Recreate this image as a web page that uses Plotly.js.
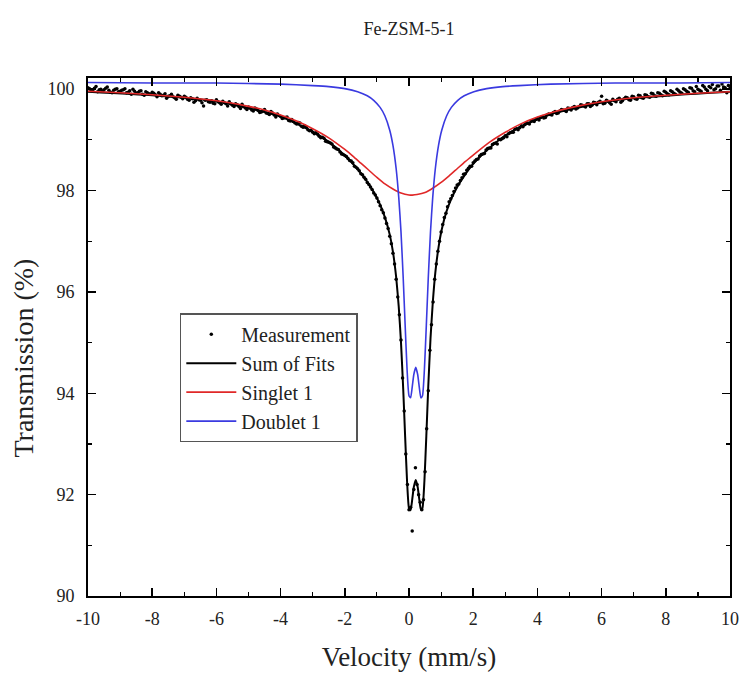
<!DOCTYPE html>
<html>
<head>
<meta charset="utf-8">
<script src="https://cdn.plot.ly/plotly-3.0.1.min.js"></script>
<style>html,body{margin:0;padding:0;background:#fff}#chart{width:742px;height:677px}</style>
</head>
<body>
<div id="chart"></div>
<script>
// Measurement (velocity in mm/s, transmission in %), channels on a 0.1 mm/s grid
const measV = [
-10.0,-9.9,-9.8,-9.7,-9.6,-9.5,-9.4,-9.3,-9.2,-9.1,-9.0,-8.9,-8.8,-8.7,-8.6,-8.5,-8.4,-8.3,-8.2,-8.1,
-8.0,-7.9,-7.8,-7.7,-7.6,-7.5,-7.4,-7.3,-7.2,-7.1,-7.0,-6.9,-6.8,-6.7,-6.6,-6.5,-6.4,-6.3,-6.2,-6.1,
-6.0,-5.9,-5.8,-5.7,-5.6,-5.5,-5.4,-5.3,-5.2,-5.1,-5.0,-4.9,-4.8,-4.7,-4.6,-4.5,-4.4,-4.3,-4.2,-4.1,
-4.0,-3.9,-3.8,-3.7,-3.6,-3.5,-3.4,-3.3,-3.2,-3.1,-3.0,-2.9,-2.8,-2.7,-2.6,-2.5,-2.4,-2.3,-2.2,-2.1,
-2.0,-1.9,-1.8,-1.7,-1.6,-1.5,-1.4,-1.3,-1.2,-1.1,-1.0,-0.9,-0.8,-0.7,-0.6,-0.5,-0.4,-0.3,-0.2,-0.1,
0.0,0.1,0.2,0.3,0.4,0.5,0.6,0.7,0.8,0.9,1.0,1.1,1.2,1.3,1.4,1.5,1.6,1.7,1.8,1.9,
2.0,2.1,2.2,2.3,2.4,2.5,2.6,2.7,2.8,2.9,3.0,3.1,3.2,3.3,3.4,3.5,3.6,3.7,3.8,3.9,
4.0,4.1,4.2,4.3,4.4,4.5,4.6,4.7,4.8,4.9,5.0,5.1,5.2,5.3,5.4,5.5,5.6,5.7,5.8,5.9,
6.0,6.1,6.2,6.3,6.4,6.5,6.6,6.7,6.8,6.9,7.0,7.1,7.2,7.3,7.4,7.5,7.6,7.7,7.8,7.9,
8.0,8.1,8.2,8.3,8.4,8.5,8.6,8.7,8.8,8.9,9.0,9.1,9.2,9.3,9.4,9.5,9.6,9.7,9.8,9.9,10.0];
const measT = [
100.03,99.98,100.02,99.95,100.00,99.99,100.04,99.94,99.98,100.01,99.96,99.99,99.93,99.97,100.00,99.92,99.96,99.90,99.95,99.91,
99.94,99.89,99.93,99.87,99.91,99.86,99.90,99.83,99.88,99.84,99.86,99.80,99.83,99.74,99.82,99.78,99.67,99.79,99.74,99.72,
99.79,99.73,99.76,99.71,99.75,99.68,99.71,99.66,99.70,99.63,99.65,99.59,99.63,99.58,99.55,99.60,99.52,99.56,99.49,99.51,
99.46,99.43,99.45,99.37,99.36,99.31,99.33,99.25,99.25,99.18,99.15,99.14,99.07,99.05,98.97,98.95,98.92,98.84,98.81,98.72,
98.69,98.63,98.58,98.48,98.43,98.33,98.26,98.16,98.07,97.95,97.85,97.70,97.56,97.35,97.10,96.76,96.25,95.55,94.30,92.80,
91.70,91.28,92.53,92.00,91.70,92.45,94.05,95.35,96.25,96.80,97.18,97.47,97.68,97.84,97.98,98.11,98.20,98.32,98.40,98.48,
98.55,98.61,98.68,98.72,98.80,98.84,98.91,98.94,99.01,99.02,99.08,99.12,99.15,99.21,99.20,99.28,99.30,99.33,99.37,99.36,
99.42,99.44,99.43,99.49,99.50,99.54,99.52,99.57,99.59,99.56,99.62,99.64,99.61,99.66,99.68,99.65,99.71,99.68,99.73,99.74,
99.86,99.72,99.76,99.70,99.77,99.80,99.74,99.81,99.83,99.78,99.85,99.80,99.87,99.82,99.88,99.84,99.91,99.86,99.92,99.87,
99.94,99.89,99.95,99.90,99.97,99.92,99.99,99.94,100.02,99.95,100.00,99.96,100.04,99.97,100.03,99.99,100.06,99.98,100.04,99.93,100.02];
// Measurement, interleaved channels
const measV2 = [
-9.95,-9.85,-9.75,-9.65,-9.55,-9.45,-9.35,-9.25,-9.15,-9.05,-8.95,-8.85,-8.75,-8.65,-8.55,-8.45,-8.35,-8.25,-8.15,-8.05,
-7.95,-7.85,-7.75,-7.65,-7.55,-7.45,-7.35,-7.25,-7.15,-7.05,-6.95,-6.85,-6.75,-6.65,-6.55,-6.45,-6.35,-6.25,-6.15,-6.05,
-5.95,-5.85,-5.75,-5.65,-5.55,-5.45,-5.35,-5.25,-5.15,-5.05,-4.95,-4.85,-4.75,-4.65,-4.55,-4.45,-4.35,-4.25,-4.15,-4.05,
-3.95,-3.85,-3.75,-3.65,-3.55,-3.45,-3.35,-3.25,-3.15,-3.05,-2.95,-2.85,-2.75,-2.65,-2.55,-2.45,-2.35,-2.25,-2.15,-2.05,
-1.95,-1.85,-1.75,-1.65,-1.55,-1.45,-1.35,-1.25,-1.15,-1.05,-0.95,-0.85,-0.75,-0.65,-0.55,-0.45,-0.35,-0.25,-0.15,-0.05,
0.05,0.15,0.25,0.35,0.45,0.55,0.65,0.75,0.85,0.95,1.05,1.15,1.25,1.35,1.45,1.55,1.65,1.75,1.85,1.95,
2.05,2.15,2.25,2.35,2.45,2.55,2.65,2.75,2.85,2.95,3.05,3.15,3.25,3.35,3.45,3.55,3.65,3.75,3.85,3.95,
4.05,4.15,4.25,4.35,4.45,4.55,4.65,4.75,4.85,4.95,5.05,5.15,5.25,5.35,5.45,5.55,5.65,5.75,5.85,5.95,
6.05,6.15,6.25,6.35,6.45,6.55,6.65,6.75,6.85,6.95,7.05,7.15,7.25,7.35,7.45,7.55,7.65,7.75,7.85,7.95,
8.05,8.15,8.25,8.35,8.45,8.55,8.65,8.75,8.85,8.95,9.05,9.15,9.25,9.35,9.45,9.55,9.65,9.75,9.85,9.95];
const measT2 = [
100.01,99.97,100.05,99.99,99.96,100.02,99.98,99.93,100.00,99.95,99.98,100.01,99.94,99.90,99.96,99.93,99.97,99.88,99.93,99.90,
99.92,99.85,99.90,99.88,99.82,99.87,99.85,99.80,99.86,99.81,99.84,99.78,99.81,99.77,99.79,99.73,99.78,99.75,99.77,99.71,
99.75,99.70,99.73,99.67,99.71,99.66,99.69,99.62,99.66,99.60,99.63,99.57,99.61,99.54,99.57,99.53,99.50,99.53,99.45,99.48,
99.42,99.44,99.38,99.40,99.33,99.34,99.27,99.28,99.20,99.19,99.12,99.11,99.04,99.03,98.96,98.94,98.86,98.82,98.76,98.71,
98.67,98.59,98.55,98.46,98.39,98.31,98.22,98.12,98.02,97.91,97.78,97.62,97.46,97.25,96.95,96.55,95.90,95.05,93.65,92.20,
91.75,92.10,92.20,91.85,91.90,93.30,94.85,95.80,96.55,97.00,97.33,97.55,97.78,97.90,98.05,98.13,98.25,98.33,98.44,98.48,
98.58,98.62,98.71,98.73,98.83,98.84,98.93,98.92,99.00,99.04,99.06,99.14,99.15,99.22,99.24,99.26,99.32,99.31,99.38,99.40,
99.39,99.46,99.44,99.51,99.49,99.56,99.53,99.60,99.58,99.63,99.59,99.66,99.63,99.69,99.67,99.71,99.66,99.74,99.69,99.76,
99.71,99.78,99.73,99.80,99.75,99.82,99.77,99.84,99.79,99.86,99.81,99.88,99.83,99.89,99.85,99.92,99.87,99.93,99.89,99.96,
99.91,99.97,99.92,100.00,99.94,100.01,99.96,100.03,99.97,100.05,99.98,100.07,100.00,100.05,100.09,100.01,100.06,100.10,100.03,100.07];

// Sum of fits
const sumV = [-10,-8,-6,-4,-3,-2.5,-2,-1.6,-1.3,-1.1,-0.9,-0.75,-0.6,-0.5,-0.4,-0.32,-0.25,-0.18,-0.12,-0.06,
  0,0.05,0.1,0.15,0.21,0.27,0.32,0.37,0.42,0.48,0.54,0.6,0.67,0.74,0.82,0.92,1.02,1.17,1.32,1.52,1.72,2.02,2.42,2.92,3.42,4.42,6.42,8.42,10];
const sumT = [99.95,99.88,99.76,99.46,99.16,98.96,98.69,98.42,98.17,97.97,97.72,97.47,97.13,96.79,96.29,95.71,95.01,94.08,93.14,92.26,
  91.73,91.69,91.90,92.15,92.29,92.15,91.91,91.70,91.74,92.27,93.16,94.13,95.08,95.78,96.38,96.88,97.23,97.59,97.84,98.09,98.29,98.54,98.79,99.05,99.24,99.51,99.78,99.89,99.95];

// Singlet 1
const singV = [-10,-9,-8,-7,-6,-5,-4.5,-4,-3.5,-3,-2.5,-2,-1.75,-1.5,-1.25,-1,-0.75,-0.5,-0.25,0,0.1,0.25,0.5,0.75,1,1.25,1.5,1.75,2,2.5,3,3.5,4,4.5,5,6,7,8,9,10];
const singT = [99.96,99.93,99.89,99.84,99.77,99.66,99.59,99.49,99.37,99.22,99.04,98.81,98.68,98.54,98.40,98.26,98.13,98.03,97.95,97.91,97.91,97.92,97.96,98.05,98.16,98.29,98.43,98.57,98.70,98.95,99.15,99.32,99.45,99.55,99.63,99.75,99.83,99.88,99.92,99.95];

// Doublet 1
const dblV = [-10,-8,-6,-4,-3,-2.5,-2,-1.6,-1.3,-1.1,-0.9,-0.75,-0.6,-0.5,-0.4,-0.32,-0.25,-0.18,-0.12,-0.06,
  0,0.05,0.1,0.15,0.21,0.27,0.32,0.37,0.42,0.48,0.54,0.6,0.67,0.74,0.82,0.92,1.02,1.17,1.32,1.52,1.72,2.02,2.42,2.92,3.42,4.42,6.42,8.42,10];
const dblT = [100.13,100.12,100.12,100.10,100.07,100.05,100.01,99.95,99.87,99.78,99.64,99.47,99.19,98.89,98.43,97.87,97.19,96.27,95.34,94.47,
  93.95,93.91,94.12,94.37,94.51,94.37,94.12,93.91,93.95,94.47,95.34,96.27,97.19,97.87,98.43,98.89,99.19,99.47,99.64,99.78,99.87,99.95,100.01,100.05,100.07,100.10,100.12,100.12,100.13];

// Axis ticks
const xTicks = [-10,-8,-6,-4,-2,0,2,4,6,8,10];
const xTickText = ["-10","-8","-6","-4","-2","0","2","4","6","8","10"];
const yTicks = [90,92,94,96,98,100];
const yTickText = ["90","92","94","96","98","100"];

const serif = "Liberation Serif, Times New Roman, serif";

const traces = [
  {x: measV.concat(measV2), y: measT.concat(measT2), mode: 'markers', type: 'scatter', name: 'Measurement',
   marker: {color: '#000', size: 3.5}},
  {x: sumV, y: sumT, mode: 'lines', type: 'scatter', name: 'Sum of Fits',
   line: {color: '#000', width: 2, shape: 'spline', smoothing: 0.5}},
  {x: singV, y: singT, mode: 'lines', type: 'scatter', name: 'Singlet 1',
   line: {color: '#e02828', width: 1.6, shape: 'spline', smoothing: 0.5}},
  {x: dblV, y: dblT, mode: 'lines', type: 'scatter', name: 'Doublet 1',
   line: {color: '#3a3ae0', width: 1.6, shape: 'spline', smoothing: 0.5}}
];

const axisCommon = {
  showline: true, linecolor: '#000', linewidth: 2, mirror: 'ticks',
  ticks: 'inside', ticklen: 8, tickwidth: 1.5, tickcolor: '#000',
  showgrid: false, zeroline: false,
  tickfont: {family: serif, size: 18, color: '#222'}
};

const layout = {
  width: 742, height: 677,
  margin: {l: 88, r: 12, t: 78, b: 81},
  paper_bgcolor: '#fff', plot_bgcolor: '#fff',
  title: {text: 'Fe-ZSM-5-1', font: {family: serif, size: 18, color: '#222'},
          x: 0.5, xref: 'paper', y: 0.958, yref: 'container', yanchor: 'middle'},
  xaxis: Object.assign({}, axisCommon, {
    range: [-10, 10], tickmode: 'array', tickvals: xTicks, ticktext: xTickText,
    ticklabelstandoff: 5,
    minor: {tickmode: 'linear', tick0: -10, dtick: 1, ticks: 'inside', ticklen: 4, tickwidth: 1.2, tickcolor: '#000'},
    title: {text: 'Velocity (mm/s)', font: {family: serif, size: 27, color: '#222'}, standoff: 20}
  }),
  yaxis: Object.assign({}, axisCommon, {
    range: [90, 100.22], tickmode: 'array', tickvals: yTicks, ticktext: yTickText,
    ticklabelstandoff: 8,
    minor: {tickmode: 'linear', tick0: 90, dtick: 1, ticks: 'inside', ticklen: 4, tickwidth: 1.2, tickcolor: '#000'},
    title: {text: ''}
  }),
  annotations: [
    {text: 'Transmission (%)', xref: 'paper', yref: 'paper', x: -0.1, y: 0.46,
     showarrow: false, textangle: -90, xanchor: 'center', yanchor: 'middle',
     font: {family: serif, size: 28, color: '#222'}}
  ],
  showlegend: true,
  legend: {x: 0.143, y: 0.546, xanchor: 'left', yanchor: 'top',
           bgcolor: '#fff', bordercolor: '#555', borderwidth: 1.5,
           itemwidth: 50,
           font: {family: serif, size: 20, color: '#222'}, tracegroupgap: 0}
};

Plotly.newPlot('chart', traces, layout, {displayModeBar: false, staticPlot: true});
</script>
</body>
</html>
